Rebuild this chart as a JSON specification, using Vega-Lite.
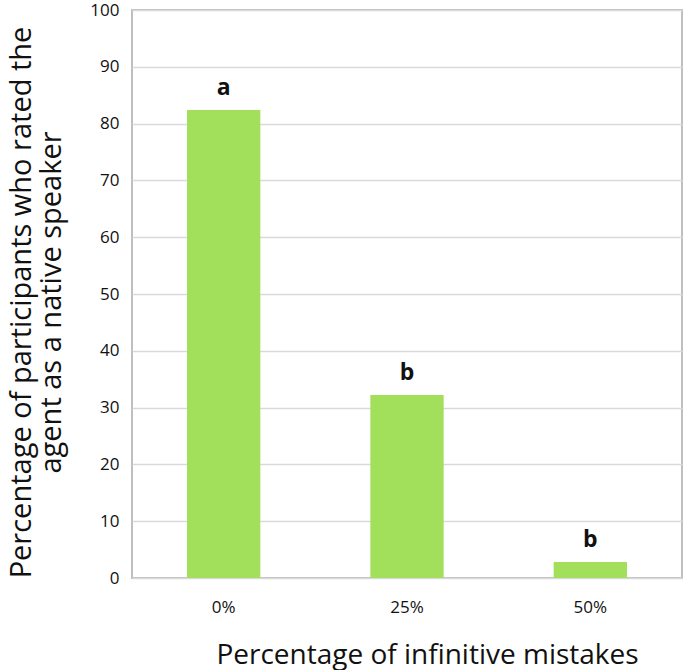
{
  "$schema": "https://vega.github.io/schema/vega-lite/v6.json",
  "width": 550,
  "height": 568,
  "autosize": {"type": "none"},
  "padding": {"left": 132, "top": 10, "right": 3, "bottom": 92},
  "background": "white",
  "config": {
    "font": "Open Sans",
    "view": {"stroke": "#bfbfbf", "strokeWidth": 2}
  },
  "data": {
    "values": [
      {"mistakes": "0%", "pct": 82.4, "letter": "a"},
      {"mistakes": "25%", "pct": 32.2, "letter": "b"},
      {"mistakes": "50%", "pct": 2.8, "letter": "b"}
    ]
  },
  "encoding": {
    "x": {
      "field": "mistakes",
      "type": "nominal",
      "sort": ["0%", "25%", "50%"],
      "scale": {"paddingInner": 0.6, "paddingOuter": 0.3},
      "axis": {
        "title": "Percentage of infinitive mistakes",
        "titleFont": "Open Sans",
        "titleFontSize": 28,
        "titleFontWeight": "normal",
        "titleColor": "#111",
        "titleX": 295,
        "titleY": 77,
        "titleBaseline": "middle",
        "titleAnchor": "middle",
        "labelAngle": 0,
        "labelFont": "Open Sans",
        "labelFontSize": 17,
        "labelColor": "#111",
        "labelPadding": 21,
        "ticks": false,
        "domain": false,
        "grid": false
      }
    },
    "y": {
      "field": "pct",
      "type": "quantitative",
      "scale": {"domain": [0, 100], "nice": false},
      "axis": {
        "title": ["Percentage of participants who rated the", "agent as a native speaker"],
        "titleFont": "Open Sans",
        "titleFontSize": 29,
        "titleFontWeight": "normal",
        "titleColor": "#111",
        "titleAngle": -90,
        "titleX": -111,
        "titleY": 292,
        "titleBaseline": "middle",
        "titleAlign": "center",
        "titleLineHeight": 30,
        "values": [0, 10, 20, 30, 40, 50, 60, 70, 80, 90, 100],
        "labelFont": "Open Sans",
        "labelFontSize": 17,
        "labelColor": "#111",
        "labelPadding": 13,
        "ticks": false,
        "domain": false,
        "grid": true,
        "gridColor": "#d9d9d9",
        "gridWidth": 1.5
      }
    }
  },
  "layer": [
    {"mark": {"type": "bar", "color": "#A2E05B"}},
    {
      "mark": {"type": "text", "baseline": "alphabetic", "dy": -15, "fontSize": 23, "fontWeight": "bold", "font": "Open Sans", "color": "#111"},
      "encoding": {"text": {"field": "letter"}}
    }
  ]
}
